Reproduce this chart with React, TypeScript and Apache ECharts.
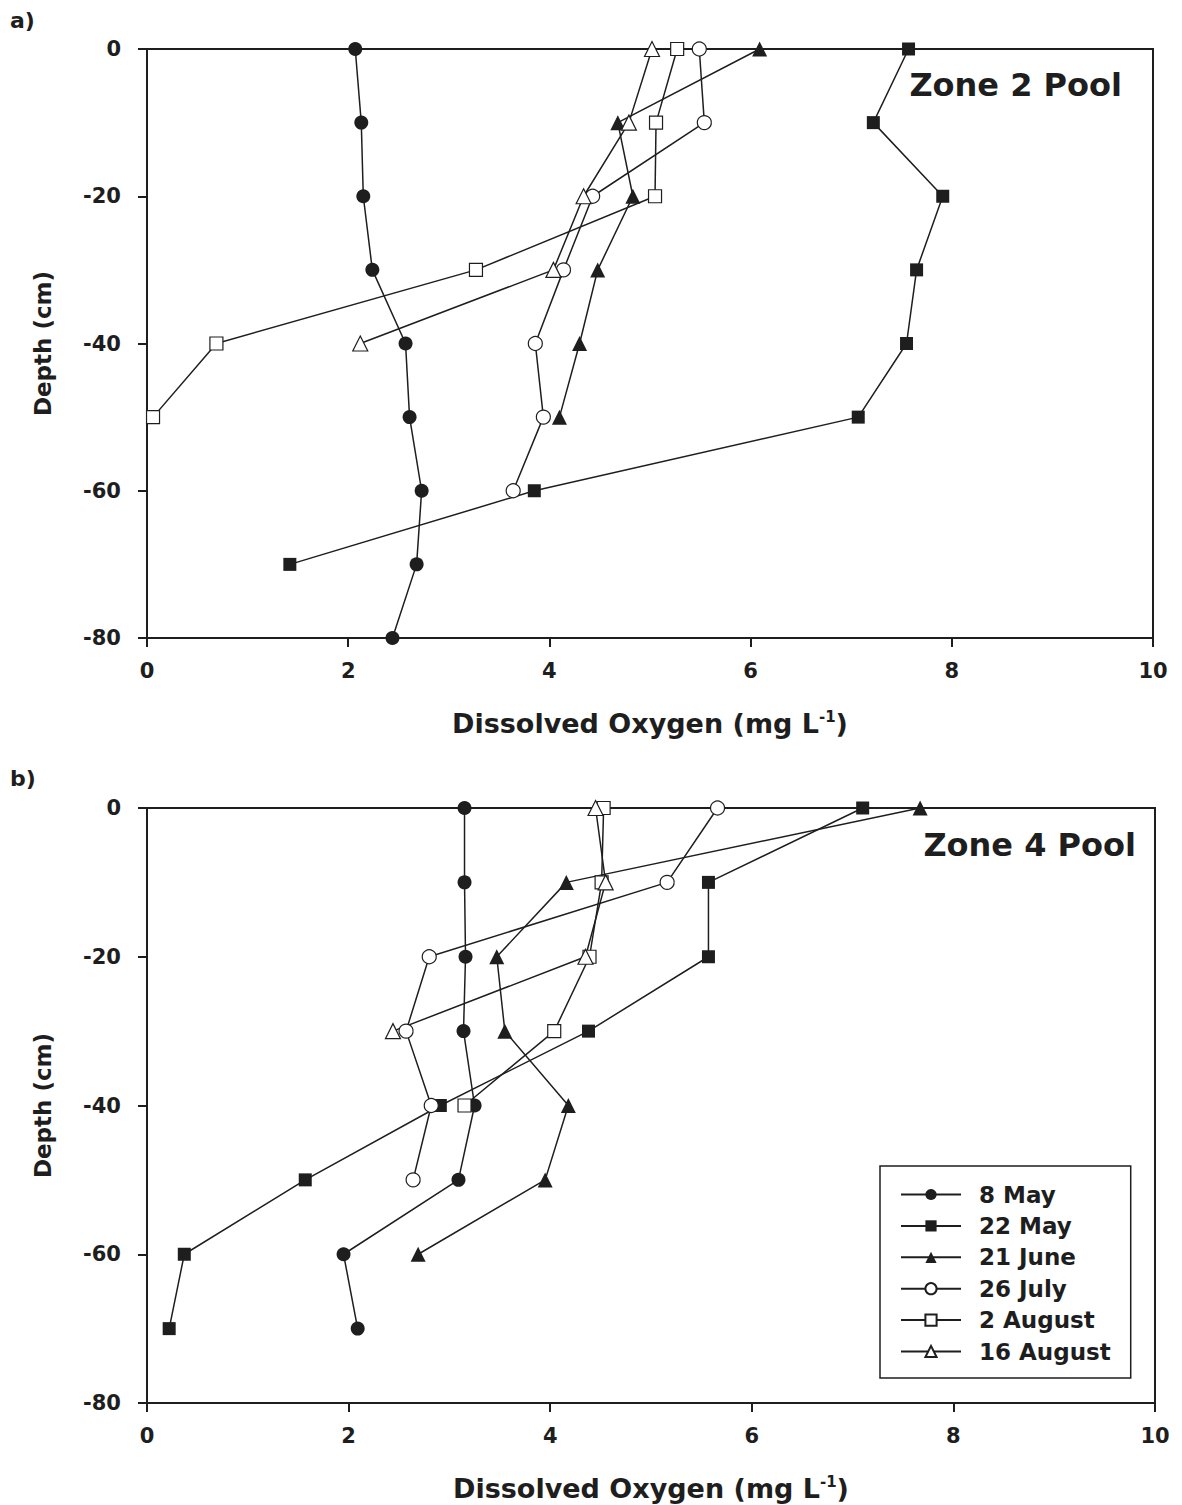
import React, { useEffect, useRef } from "react";
import * as echarts from "echarts";

// Depth levels (cm)
const depths = [0, -10, -20, -30, -40, -50, -60, -70, -80];

// Panel a) Zone 2 Pool — dissolved oxygen (mg/L) by depth
const a8May = [2.07, 2.13, 2.15, 2.24, 2.57, 2.61, 2.73, 2.68, 2.44];
const a22May = [7.57, 7.22, 7.91, 7.65, 7.55, 7.07, 3.85, 1.42];
const a21June = [6.09, 4.68, 4.83, 4.48, 4.3, 4.1];
const a26July = [5.49, 5.54, 4.43, 4.14, 3.86, 3.94, 3.64];
const a2August = [5.27, 5.06, 5.05, 3.27, 0.69, 0.06];
const a16August = [5.02, 4.79, 4.34, 4.04, 2.12];

// Panel b) Zone 4 Pool
const b8May = [3.15, 3.15, 3.16, 3.14, 3.25, 3.09, 1.95, 2.09];
const b22May = [7.1, 5.57, 5.57, 4.38, 2.91, 1.57, 0.37, 0.22];
const b21June = [7.67, 4.16, 3.47, 3.55, 4.18, 3.95, 2.69];
const b26July = [5.66, 5.16, 2.8, 2.57, 2.82, 2.64];
const b2August = [4.53, 4.51, 4.39, 4.04, 3.15];
const b16August = [4.45, 4.55, 4.35, 2.44];

const seriesNames = ["8 May", "22 May", "21 June", "26 July", "2 August", "16 August"];

const INK = "#1e1e1e";
const FONT = "DejaVu Sans";

const styles = [
  { symbol: "circle", size: 14, fill: INK },
  { symbol: "rect", size: 13, fill: INK },
  { symbol: "triangle", size: 15, fill: INK },
  { symbol: "circle", size: 14, fill: "#ffffff" },
  { symbol: "rect", size: 13, fill: "#ffffff" },
  { symbol: "triangle", size: 15, fill: "#ffffff" },
];

function pairs(vals: number[]) {
  return vals.map((v, i) => [v, depths[i]]);
}

export default function App() {
  const ref = useRef<HTMLDivElement>(null);

  useEffect(() => {
    if (!ref.current) return;
    const chart = echarts.init(ref.current, undefined, { renderer: "svg" });

    const panels = [
      [a8May, a22May, a21June, a26July, a2August, a16August],
      [b8May, b22May, b21June, b26July, b2August, b16August],
    ];

    const series: any[] = [];
    panels.forEach((vals, p) => {
      vals.forEach((v, i) => {
        const st = styles[i];
        series.push({
          type: "line",
          name: seriesNames[i],
          xAxisIndex: p,
          yAxisIndex: p,
          data: pairs(v),
          symbol: st.symbol,
          symbolSize: st.size,
          showAllSymbol: true,
          lineStyle: { color: INK, width: 1.5 },
          itemStyle: { color: st.fill, borderColor: INK, borderWidth: st.fill === INK ? 0 : 1.2 },
          emphasis: { disabled: true },
          z: 3,
        });
      });
    });

    const xAxisBase = (gridIndex: number) => ({
      type: "value",
      gridIndex,
      min: 0,
      max: 10,
      interval: 2,
      name: "Dissolved Oxygen (mg L{sup|-1})",
      nameLocation: "middle",
      nameGap: 71,
      nameTextStyle: {
        fontFamily: FONT,
        fontWeight: "bold",
        fontSize: 27,
        color: INK,
        rich: {
          sup: { fontFamily: FONT, fontWeight: "bold", fontSize: 15, color: INK, verticalAlign: "top", padding: [0, 0, 14, 0] },
        },
      },
      axisLine: { show: true, onZero: false, lineStyle: { color: INK, width: 2 } },
      axisTick: { show: true, inside: false, length: 9, lineStyle: { color: INK, width: 2 } },
      axisLabel: { fontFamily: FONT, fontWeight: "bold", fontSize: 21, color: INK, margin: 22 },
      splitLine: { show: false },
    });

    const yAxisBase = (gridIndex: number) => ({
      type: "value",
      gridIndex,
      min: -80,
      max: 0,
      interval: 20,
      name: "Depth (cm)",
      nameLocation: "middle",
      nameGap: 93,
      nameRotate: 90,
      nameTextStyle: { fontFamily: FONT, fontWeight: "bold", fontSize: 23, color: INK },
      axisLine: { show: true, onZero: false, lineStyle: { color: INK, width: 2 } },
      axisTick: { show: true, inside: false, length: 9, lineStyle: { color: INK, width: 2 } },
      axisLabel: { fontFamily: FONT, fontWeight: "bold", fontSize: 21, color: INK, margin: 26 },
      splitLine: { show: false },
    });

    chart.setOption({
      animation: false,
      backgroundColor: "#ffffff",
      grid: [
        { left: 139, top: 41, width: 1006, height: 589, show: true, borderColor: INK, borderWidth: 2, backgroundColor: "transparent" },
        { left: 139, top: 800, width: 1008, height: 595, show: true, borderColor: INK, borderWidth: 2, backgroundColor: "transparent" },
      ],
      xAxis: [xAxisBase(0), xAxisBase(1)],
      yAxis: [yAxisBase(0), yAxisBase(1)],
      legend: {
        data: seriesNames,
        orient: "vertical",
        left: 872,
        top: 1158,
        itemWidth: 60,
        itemHeight: 14,
        itemGap: 8.4,
        padding: [17, 20, 15, 20],
        borderColor: INK,
        borderWidth: 1.5,
        backgroundColor: "#ffffff",
        selectedMode: false,
        textStyle: { fontFamily: FONT, fontWeight: "bold", fontSize: 23, color: INK, lineHeight: 23, padding: [0, 0, 0, 13] },
      },
      graphic: [
        { type: "text", left: 2, top: 1, style: { text: "a)", fontFamily: FONT, fontWeight: "bold", fontSize: 22, fill: INK } },
        { type: "text", left: 2, top: 759, style: { text: "b)", fontFamily: FONT, fontWeight: "bold", fontSize: 22, fill: INK } },
        { type: "text", right: 52, top: 61, style: { text: "Zone 2 Pool", fontFamily: FONT, fontWeight: "bold", fontSize: 32, fill: INK } },
        { type: "text", right: 38, top: 821, style: { text: "Zone 4 Pool", fontFamily: FONT, fontWeight: "bold", fontSize: 32, fill: INK } },
      ],
      series,
    });

    return () => chart.dispose();
  }, []);

  return <div ref={ref} style={{ width: 1166, height: 1497 }} />;
}
